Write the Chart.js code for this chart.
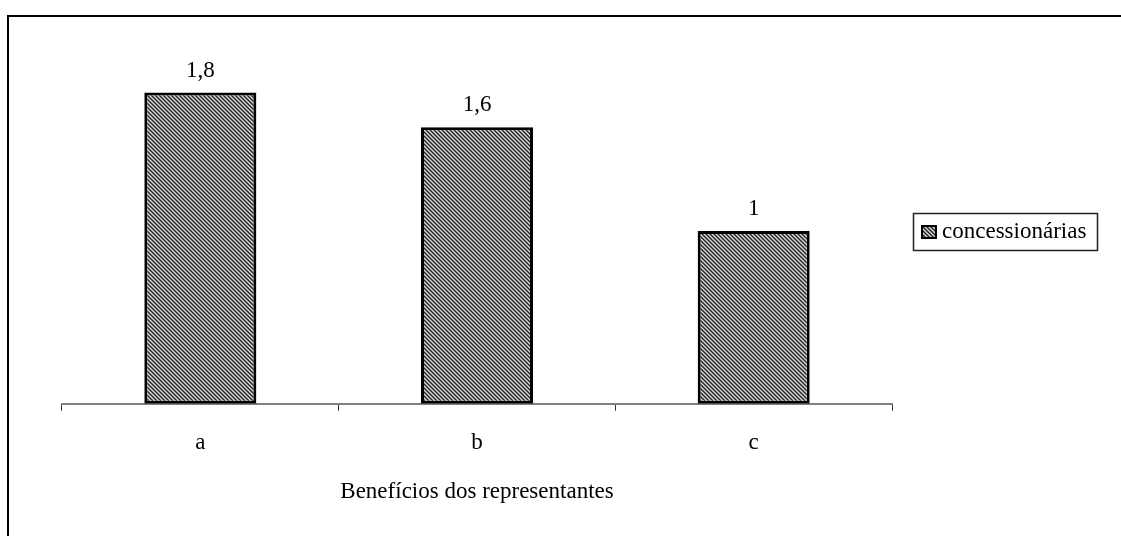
<!DOCTYPE html>
<html>
<head>
<meta charset="utf-8">
<script src="https://cdn.jsdelivr.net/npm/chart.js@4"></script>
<style>
  html, body { margin: 0; padding: 0; background: #fff; }
  #wrap { width: 1121px; height: 536px; position: relative; }
</style>
</head>
<body>
<div id="wrap"><canvas id="c" width="1121" height="536"></canvas></div>
<script>
const categories = ['a', 'b', 'c'];
const seriesName = 'concessionárias';
const seriesValues = [1.8, 1.6, 1.0];
const axisTitle = 'Benefícios dos representantes';

const FONT = '"Liberation Serif", "Times New Roman", serif';
const FSIZE = 23;

function makePattern() {
  const p = document.createElement('canvas');
  p.width = 4; p.height = 4;
  const g = p.getContext('2d');
  const cols = ['#1e1e1e', '#808080', '#dadada', '#808080'];
  for (let y = 0; y < 4; y++) {
    for (let x = 0; x < 4; x++) {
      const d = ((x - y) % 4 + 4) % 4;
      g.fillStyle = cols[d];
      g.fillRect(x, y, 1, 1);
    }
  }
  return g.createPattern(p, 'repeat');
}
const ctx0 = document.getElementById('c').getContext('2d');
const pattern = makePattern();

const framePlugin = {
  id: 'frame',
  afterDraw(chart) {
    const ctx = chart.ctx;
    ctx.save();
    // outer frame (left and top visible)
    ctx.strokeStyle = '#000';
    ctx.lineWidth = 2;
    ctx.beginPath();
    ctx.moveTo(8, chart.height);
    ctx.lineTo(8, 16);
    ctx.lineTo(chart.width, 16);
    ctx.stroke();

    // value labels
    const meta = chart.getDatasetMeta(0);
    ctx.fillStyle = '#000';
    ctx.font = FSIZE + 'px ' + FONT;
    ctx.textAlign = 'center';
    ctx.textBaseline = 'middle';
    meta.data.forEach((bar, i) => {
      const v = chart.data.datasets[0].data[i];
      const txt = String(v).replace('.', ',');
      ctx.fillText(txt, bar.x, bar.y - 22);
    });

    // legend
    const lx = 913, ly = 213, lw = 184, lh = 37;
    ctx.strokeStyle = '#222';
    ctx.lineWidth = 1.5;
    ctx.strokeRect(lx + 0.5, ly + 0.5, lw, lh);
    ctx.fillStyle = pattern;
    ctx.fillRect(921, 225, 16, 14);
    ctx.strokeStyle = '#000';
    ctx.lineWidth = 2;
    ctx.strokeRect(922, 226, 14, 12);
    ctx.fillStyle = '#000';
    ctx.textAlign = 'left';
    ctx.textBaseline = 'middle';
    ctx.fillText(chart.data.datasets[0].label, 942, 232);
    ctx.restore();
  }
};

new Chart(ctx0, {
  type: 'bar',
  data: {
    labels: categories,
    datasets: [{
      label: seriesName,
      data: seriesValues,
      backgroundColor: pattern,
      borderColor: '#000',
      borderWidth: 3,
      borderSkipped: false,
      barPercentage: 0.405,
      categoryPercentage: 1.0
    }]
  },
  options: {
    responsive: false,
    animation: false,
    devicePixelRatio: 1,
    layout: { padding: { left: 62, right: 229, top: 58, bottom: 30 } },
    plugins: {
      legend: { display: false },
      tooltip: { enabled: false }
    },
    scales: {
      y: {
        display: false,
        min: 0,
        max: 2
      },
      x: {
        offset: true,
        grid: {
          offset: true,
          drawOnChartArea: false,
          drawTicks: true,
          tickLength: 7,
          color: '#333',
          lineWidth: 1
        },
        border: { display: true, color: '#808080', width: 2 },
        ticks: {
          color: '#000',
          font: { family: FONT, size: FSIZE },
          padding: 18
        },
        title: {
          display: true,
          text: axisTitle,
          color: '#000',
          font: { family: FONT, size: FSIZE },
          padding: { top: 4, bottom: 0 }
        }
      }
    }
  },
  plugins: [framePlugin]
});
</script>
</body>
</html>
